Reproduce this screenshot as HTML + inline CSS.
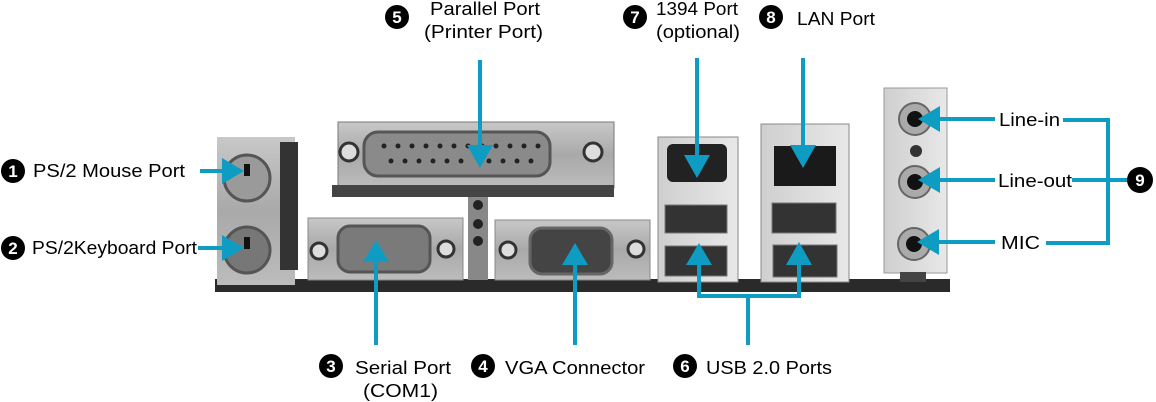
<!DOCTYPE html>
<html><head><meta charset="utf-8"><style>
html,body{margin:0;padding:0;background:#fff;}
svg{display:block}
text{font-family:"Liberation Sans",Arial,sans-serif;fill:#000;}
.n{fill:#fff;font-weight:bold;font-size:17px;text-anchor:middle}
.l{font-size:18.5px}
</style></head><body>
<svg width="1156" height="402" viewBox="0 0 1156 402" xmlns="http://www.w3.org/2000/svg">
<defs>
<linearGradient id="m" x1="0" y1="0" x2="0" y2="1"><stop offset="0" stop-color="#c8c8c8"/><stop offset="0.5" stop-color="#a9a9a9"/><stop offset="1" stop-color="#bcbcbc"/></linearGradient>
<linearGradient id="m2" x1="0" y1="0" x2="1" y2="0"><stop offset="0" stop-color="#cfcfcf"/><stop offset="1" stop-color="#e8e8e8"/></linearGradient>
</defs>
<!-- bottom bar -->
<rect x="215" y="279" width="735" height="13" fill="#2a2a2a"/>
<!-- PS2 block -->
<rect x="217" y="137" width="78" height="148" fill="url(#m)"/>
<rect x="280" y="142" width="18" height="128" fill="#333"/>
<circle cx="247" cy="178" r="23" fill="#9a9a9a" stroke="#555" stroke-width="3"/>
<circle cx="247" cy="250" r="23" fill="#777" stroke="#555" stroke-width="3"/>
<rect x="244" y="164" width="6" height="12" fill="#111"/><rect x="244" y="237" width="6" height="12" fill="#111"/>
<!-- parallel -->
<rect x="338" y="122" width="276" height="66" fill="url(#m)" stroke="#777"/>
<rect x="332" y="185" width="282" height="12" fill="#444"/>
<rect x="364" y="132" width="186" height="44" rx="14" fill="#8a8a8a" stroke="#555" stroke-width="3"/>
<circle cx="349" cy="152" r="9" fill="#ddd" stroke="#333" stroke-width="3"/>
<circle cx="593" cy="152" r="9" fill="#ddd" stroke="#333" stroke-width="3"/>
<g fill="#222">
<circle cx="384" cy="146" r="2.5"/><circle cx="398" cy="146" r="2.5"/><circle cx="412" cy="146" r="2.5"/><circle cx="426" cy="146" r="2.5"/><circle cx="440" cy="146" r="2.5"/><circle cx="454" cy="146" r="2.5"/><circle cx="468" cy="146" r="2.5"/><circle cx="482" cy="146" r="2.5"/><circle cx="496" cy="146" r="2.5"/><circle cx="510" cy="146" r="2.5"/><circle cx="524" cy="146" r="2.5"/><circle cx="538" cy="146" r="2.5"/>
<circle cx="391" cy="161" r="2.5"/><circle cx="405" cy="161" r="2.5"/><circle cx="419" cy="161" r="2.5"/><circle cx="433" cy="161" r="2.5"/><circle cx="447" cy="161" r="2.5"/><circle cx="461" cy="161" r="2.5"/><circle cx="489" cy="161" r="2.5"/><circle cx="503" cy="161" r="2.5"/><circle cx="517" cy="161" r="2.5"/><circle cx="531" cy="161" r="2.5"/>
</g>
<!-- post -->
<rect x="468" y="197" width="20" height="83" fill="#888"/>
<circle cx="478" cy="205" r="5" fill="#222"/><circle cx="478" cy="224" r="5" fill="#222"/><circle cx="478" cy="241" r="5" fill="#222"/>
<!-- serial -->
<rect x="308" y="218" width="155" height="62" fill="url(#m)" stroke="#888"/>
<rect x="338" y="226" width="92" height="46" rx="12" fill="#7a7a7a" stroke="#555" stroke-width="3"/>
<circle cx="319" cy="251" r="8" fill="#ddd" stroke="#333" stroke-width="3"/>
<circle cx="446" cy="249" r="8" fill="#ddd" stroke="#333" stroke-width="3"/>
<!-- vga -->
<rect x="495" y="220" width="155" height="60" fill="url(#m)" stroke="#888"/>
<rect x="530" y="228" width="82" height="46" rx="12" fill="#444" stroke="#666" stroke-width="3"/>
<circle cx="508" cy="250" r="8" fill="#ddd" stroke="#333" stroke-width="3"/>
<circle cx="636" cy="249" r="8" fill="#ddd" stroke="#333" stroke-width="3"/>
<!-- usb block 1 -->
<rect x="658" y="137" width="80" height="145" fill="url(#m2)" stroke="#888"/>
<rect x="667" y="144" width="60" height="38" rx="6" fill="#222"/>
<rect x="665" y="205" width="62" height="28" fill="#333" stroke="#777"/>
<rect x="665" y="246" width="62" height="30" fill="#333" stroke="#777"/>
<!-- LAN block -->
<rect x="761" y="124" width="88" height="158" fill="url(#m2)" stroke="#888"/>
<rect x="774" y="146" width="62" height="40" fill="#1a1a1a"/>
<rect x="772" y="203" width="64" height="30" fill="#333" stroke="#777"/>
<rect x="773" y="245" width="64" height="32" fill="#333" stroke="#777"/>
<!-- audio -->
<rect x="884" y="88" width="63" height="185" fill="url(#m2)" stroke="#999"/>
<rect x="900" y="272" width="26" height="10" fill="#444"/>
<circle cx="915" cy="119" r="16" fill="#aaa" stroke="#666" stroke-width="2"/><circle cx="915" cy="119" r="8" fill="#111"/>
<circle cx="916" cy="151" r="6" fill="#333"/>
<circle cx="915" cy="182" r="16" fill="#aaa" stroke="#666" stroke-width="2"/><circle cx="915" cy="182" r="8" fill="#111"/>
<circle cx="914" cy="244" r="16" fill="#aaa" stroke="#666" stroke-width="2"/><circle cx="914" cy="244" r="8" fill="#111"/>

<!-- connectors -->
<g stroke="#0e9cc2" stroke-width="4" fill="none">
<path d="M200,171H226"/>
<path d="M198,248H226"/>
<path d="M480,60V150"/>
<path d="M697,58V160"/>
<path d="M803,58V150"/>
<path d="M376,345V255"/>
<path d="M575,345V258"/>
<path d="M699,296V258"/>
<path d="M799,296V258"/>
<path d="M697,296H801M748,296V345"/>
<path d="M995,119H935"/>
<path d="M995,180H935"/>
<path d="M995,242H934"/>
<path d="M1063,120H1108V243H1046M1072,180H1128"/>
</g>
<g fill="#0e9cc2">
<path d="M222,158L244,171L222,184z"/>
<path d="M222,235L244,248L222,261z"/>
<path d="M467,145L480,168L493,145z"/>
<path d="M684,155L697,178L710,155z"/>
<path d="M790,145L803,168L816,145z"/>
<path d="M363,262L376,240L389,262z"/>
<path d="M562,265L575,243L588,265z"/>
<path d="M686,265L699,243L712,265z"/>
<path d="M786,265L799,242L812,265z"/>
<path d="M940,106L918,119L940,132z"/>
<path d="M940,167L918,180L940,193z"/>
<path d="M939,229L917,242L939,255z"/>
</g>

<!-- labels -->
<g>
<circle cx="13" cy="171" r="12" fill="#000"/><text class="n" x="13" y="177">1</text>
<text class="l" x="33" y="177" textLength="152" lengthAdjust="spacingAndGlyphs">PS/2 Mouse Port</text>
<circle cx="13" cy="248" r="12" fill="#000"/><text class="n" x="13" y="254">2</text>
<text class="l" x="32" y="254" textLength="165" lengthAdjust="spacingAndGlyphs">PS/2Keyboard Port</text>
<circle cx="397" cy="17" r="12" fill="#000"/><text class="n" x="397" y="23">5</text>
<text class="l" x="430" y="15" textLength="110" lengthAdjust="spacingAndGlyphs">Parallel Port</text>
<text class="l" x="424" y="38" textLength="119" lengthAdjust="spacingAndGlyphs">(Printer Port)</text>
<circle cx="635" cy="17" r="12" fill="#000"/><text class="n" x="635" y="23">7</text>
<text class="l" x="656" y="15" textLength="82" lengthAdjust="spacingAndGlyphs">1394 Port</text>
<text class="l" x="656" y="38" textLength="84" lengthAdjust="spacingAndGlyphs">(optional)</text>
<circle cx="771" cy="17" r="12" fill="#000"/><text class="n" x="771" y="23">8</text>
<text class="l" x="797" y="25" textLength="78" lengthAdjust="spacingAndGlyphs">LAN Port</text>
<circle cx="331" cy="366" r="12" fill="#000"/><text class="n" x="331" y="372">3</text>
<text class="l" x="355" y="374" textLength="96" lengthAdjust="spacingAndGlyphs">Serial Port</text>
<text class="l" x="363" y="397" textLength="75" lengthAdjust="spacingAndGlyphs">(COM1)</text>
<circle cx="483" cy="366" r="12" fill="#000"/><text class="n" x="483" y="372">4</text>
<text class="l" x="505" y="374" textLength="140" lengthAdjust="spacingAndGlyphs">VGA Connector</text>
<circle cx="685" cy="366" r="12" fill="#000"/><text class="n" x="685" y="372">6</text>
<text class="l" x="706" y="374" textLength="126" lengthAdjust="spacingAndGlyphs">USB 2.0 Ports</text>
<text class="l" x="999" y="126" textLength="61" lengthAdjust="spacingAndGlyphs">Line-in</text>
<text class="l" x="998" y="187" textLength="74" lengthAdjust="spacingAndGlyphs">Line-out</text>
<text class="l" x="1001" y="249" textLength="39" lengthAdjust="spacingAndGlyphs">MIC</text>
<circle cx="1140" cy="180" r="13" fill="#000"/><text class="n" x="1140" y="186">9</text>
</g>
</svg>
</body></html>
